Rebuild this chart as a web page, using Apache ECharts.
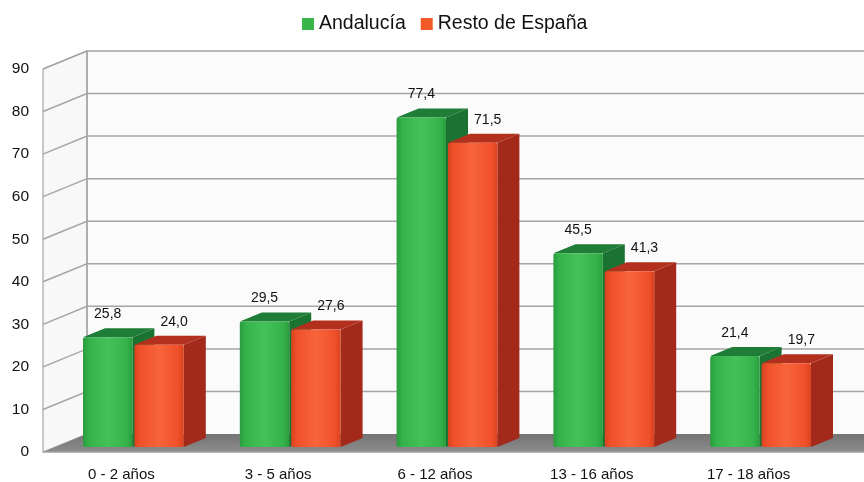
<!DOCTYPE html>
<html style="height: 100%">
<head>
<meta charset="utf-8">
<title>Andalucía vs Resto de España</title>
<script src="https://cdn.jsdelivr.net/npm/echarts@6/dist/echarts.min.js"></script>
</head>
<body style="height: 100%; margin: 0; background: #fff">
<div id="container" style="width: 864px; height: 482px"></div>
<script type="text/javascript">
var categories = ['0 - 2 años', '3 - 5 años', '6 - 12 años', '13 - 16 años', '17 - 18 años'];
var andalucia = [25.8, 29.5, 77.4, 45.5, 21.4];
var restoEspana = [24.0, 27.6, 71.5, 41.3, 19.7];
var yTicks = [0, 10, 20, 30, 40, 50, 60, 70, 80, 90];

// profundidad de las paredes y de las barras (px)
var WALL_DX = 44, WALL_DY = -18;
var BAR_OFF_DX = 12, BAR_OFF_DY = -5;
var BAR_DX = 22, BAR_DY = -9;

var myChart = echarts.init(document.getElementById('container'));

function fmt(v) {
	return v.toFixed(1).replace('.', ',');
}

function renderBackdrop(params, api) {
	var cs = params.coordSys;
	var x0 = cs.x;
	var W = api.getWidth() + 10;
	var yBase = api.coord([0, 0])[1];
	var yTop = api.coord([0, yTicks[yTicks.length - 1]])[1];
	var children = [];
	// pared del fondo
	children.push({
		type: 'rect',
		shape: { x: x0 + WALL_DX, y: yTop + WALL_DY, width: W, height: yBase - yTop },
		style: { fill: '#fbfbfb' }
	});
	// pared izquierda
	children.push({
		type: 'polygon',
		shape: { points: [[x0, yTop], [x0 + WALL_DX, yTop + WALL_DY], [x0 + WALL_DX, yBase + WALL_DY], [x0, yBase]] },
		style: { fill: '#f8f8f8', stroke: '#a8a8a8', lineWidth: 1.2 }
	});
	// líneas de división
	for (var i = 1; i < yTicks.length; i++) {
		var y = api.coord([0, yTicks[i]])[1];
		children.push({
			type: 'polyline',
			shape: { points: [[x0, y], [x0 + WALL_DX, y + WALL_DY], [W, y + WALL_DY]] },
			style: { fill: null, stroke: '#a5a5a5', lineWidth: 1.5 }
		});
	}
	children.push({
		type: 'line',
		shape: { x1: x0 + WALL_DX, y1: yTop + WALL_DY, x2: x0 + WALL_DX, y2: yBase + WALL_DY },
		style: { stroke: '#a5a5a5', lineWidth: 1.5 }
	});
	// suelo
	children.push({
		type: 'polygon',
		shape: { points: [[x0, yBase], [x0 + WALL_DX, yBase + WALL_DY], [W, yBase + WALL_DY], [W, yBase]] },
		style: {
			fill: new echarts.graphic.LinearGradient(0, 0, 0, 1, [
				{ offset: 0, color: '#747474' },
				{ offset: 1, color: '#8c8c8c' }
			])
		}
	});
	children.push({
		type: 'line',
		shape: { x1: x0, y1: yBase, x2: W, y2: yBase },
		style: { stroke: '#a0a0a0', lineWidth: 1.5 }
	});
	return { type: 'group', children: children };
}

function makeBarRenderer(side, colors, labelShift) {
	return function (params, api) {
		var cat = api.value(0);
		var val = api.value(1);
		var c = api.coord([cat, 0]);
		var yTopFront = api.coord([cat, val])[1];
		var band = api.size([1, 0])[0];
		var w = band * 0.315;
		var gap = 1;
		var l = side < 0 ? c[0] - gap - w : c[0] + gap;
		l += BAR_OFF_DX;
		var r = l + w;
		var b = c[1] + BAR_OFF_DY;
		var t = yTopFront + BAR_OFF_DY;
		return {
			type: 'group',
			children: [{
				type: 'polygon',
				shape: { points: [[r, t], [r + BAR_DX, t + BAR_DY], [r + BAR_DX, b + BAR_DY], [r, b]] },
				style: { fill: colors.side }
			}, {
				type: 'polygon',
				shape: { points: [[l, t], [l + BAR_DX, t + BAR_DY], [r + BAR_DX, t + BAR_DY], [r, t]] },
				style: { fill: colors.top }
			}, {
				type: 'rect',
				shape: { x: l, y: t, width: w, height: b - t, r: 2 },
				style: {
					fill: new echarts.graphic.LinearGradient(0, 0, 1, 0, [
						{ offset: 0, color: colors.edge },
						{ offset: 0.12, color: colors.front },
						{ offset: 0.5, color: colors.light },
						{ offset: 0.88, color: colors.front },
						{ offset: 1, color: colors.edge }
					])
				}
			}, {
				type: 'text',
				x: (l + r) / 2 + labelShift,
				y: t - 23,
				style: {
					text: fmt(val),
					fill: '#111',
					font: '14px "Liberation Sans", Arial, sans-serif',
					align: 'center',
					verticalAlign: 'middle'
				}
			}]
		};
	};
}

var option = {
	animation: false,
	legend: {
		data: ['Andalucía', 'Resto de España'],
		top: 9,
		left: 297,
		icon: 'rect',
		itemWidth: 12,
		itemHeight: 12,
		itemGap: 15,
		textStyle: {
			fontSize: 19.5,
			color: '#111',
			fontFamily: '"Liberation Sans", Arial, sans-serif'
		}
	},
	grid: {
		left: 43,
		right: 37,
		top: 69,
		bottom: 30
	},
	xAxis: {
		type: 'category',
		data: categories,
		axisLine: { show: false },
		axisTick: { show: false },
		splitLine: { show: false },
		axisLabel: {
			margin: 15,
			fontSize: 15,
			color: '#111',
			fontFamily: '"Liberation Sans", Arial, sans-serif'
		}
	},
	yAxis: {
		type: 'value',
		min: 0,
		max: 90,
		interval: 10,
		axisLine: { show: false },
		axisTick: { show: false },
		splitLine: { show: false },
		axisLabel: {
			margin: 14,
			fontSize: 15.5,
			color: '#111',
			fontFamily: '"Liberation Sans", Arial, sans-serif'
		}
	},
	series: [{
		name: 'fondo',
		type: 'custom',
		z: 1,
		silent: true,
		renderItem: renderBackdrop,
		data: [[0, 0]]
	}, {
		name: 'Andalucía',
		type: 'custom',
		z: 2,
		itemStyle: { color: '#39b54a' },
		renderItem: makeBarRenderer(-1, {
			front: '#35b34a', light: '#45c15a', edge: '#2a9c3e',
			top: '#1f7d38', side: '#1b7332'
		}, 0),
		data: andalucia.map(function (v, i) { return [i, v]; })
	}, {
		name: 'Resto de España',
		type: 'custom',
		z: 3,
		itemStyle: { color: '#f05a28' },
		renderItem: makeBarRenderer(1, {
			front: '#f0502a', light: '#f7653a', edge: '#d8431f',
			top: '#b3301f', side: '#a3291b'
		}, 15),
		data: restoEspana.map(function (v, i) { return [i, v]; })
	}]
};

myChart.setOption(option);
</script>
</body>
</html>
